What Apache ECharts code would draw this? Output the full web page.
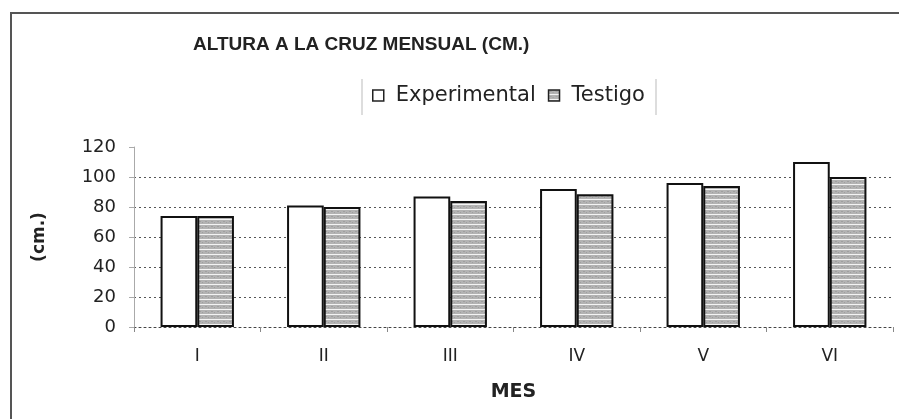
<!DOCTYPE html>
<html>
<head>
<meta charset="utf-8">
<script src="https://cdn.jsdelivr.net/npm/echarts@6/dist/echarts.min.js"></script>
<style>
html,body{margin:0;padding:0;background:#fff;}
#chart{width:899px;height:419px;}
</style>
</head>
<body>
<div id="chart"></div>
<script>
var categories = ['I', 'II', 'III', 'IV', 'V', 'VI'];
var experimental = [74, 81, 87, 92, 96, 110];
var testigo = [74, 80, 84, 88.5, 94, 100];
var yTicks = [0, 20, 40, 60, 80, 100, 120];
var seriesNames = ['Experimental', 'Testigo'];

function makePattern() {
  var c = document.createElement('canvas');
  c.width = 6; c.height = 5;
  var ctx = c.getContext('2d');
  ctx.fillStyle = '#b3b3b3';
  ctx.fillRect(0, 0, 6, 5);
  ctx.fillStyle = '#a0a0a0';
  ctx.fillRect(1, 1, 2, 1);
  ctx.fillRect(4, 2, 1, 1);
  ctx.fillStyle = '#f4f4f4';
  ctx.fillRect(0, 4, 6, 1);
  return c;
}

var chart = echarts.init(document.getElementById('chart'), null, {renderer: 'canvas'});
var option = {
  backgroundColor: '#ffffff',
  animation: false,
  title: {
    text: 'ALTURA A LA CRUZ MENSUAL (CM.)',
    left: 188,
    top: 30,
    textStyle: {fontFamily: 'Liberation Sans', fontWeight: 'bold', fontSize: 19, color: '#222'}
  },
  legend: {
    data: seriesNames,
    left: 367,
    top: 80,
    icon: 'rect',
    itemWidth: 11,
    itemHeight: 11,
    itemGap: 12,
    itemStyle: {borderColor: '#222', borderWidth: 1.5},
    textStyle: {fontFamily: 'DejaVu Sans', fontSize: 21, color: '#222', padding: [0, 0, 0, 7]}
  },
  graphic: [
    {type: 'polyline', shape: {points: [[11, 419], [11, 13], [899, 13]]}, style: {stroke: '#555', lineWidth: 2, fill: null}},
    {type: 'line', shape: {x1: 362, y1: 79, x2: 362, y2: 115}, style: {stroke: '#bbb', lineWidth: 1}},
    {type: 'line', shape: {x1: 656, y1: 79, x2: 656, y2: 115}, style: {stroke: '#bbb', lineWidth: 1}}
  ],
  grid: {left: 134, right: 6, top: 147, bottom: 92, containLabel: false},
  xAxis: {
    type: 'category',
    data: categories,
    name: 'MES',
    nameLocation: 'middle',
    nameGap: 56,
    nameTextStyle: {fontFamily: 'DejaVu Sans', fontWeight: 'bold', fontSize: 19, color: '#222'},
    axisLine: {show: true, lineStyle: {color: '#444', type: [2, 3], width: 1}},
    axisTick: {show: true, length: 5, lineStyle: {color: '#888'}},
    axisLabel: {margin: 21, fontFamily: 'DejaVu Sans', fontSize: 17, color: '#222'}
  },
  yAxis: {
    type: 'value',
    min: 0,
    max: 120,
    interval: 20,
    name: '(cm.)',
    nameLocation: 'middle',
    nameGap: 86,
    nameRotate: 90,
    nameTextStyle: {fontFamily: 'DejaVu Sans', fontWeight: 'bold', fontSize: 17, color: '#222'},
    axisLine: {show: true, lineStyle: {color: '#aaa', width: 1}},
    axisTick: {show: true, length: 5, lineStyle: {color: '#aaa'}},
    axisLabel: {margin: 18, fontFamily: 'DejaVu Sans', fontSize: 18, color: '#222',
      formatter: function (v) { return yTicks.indexOf(v) >= 0 ? String(v) : ''; }},
    splitLine: {show: true, showMinLine: false, showMaxLine: false, lineStyle: {color: '#555', type: [2, 3], width: 1}}
  },
  series: [
    {
      name: seriesNames[0],
      type: 'bar',
      data: experimental,
      barGap: '0%',
      barCategoryGap: '42%',
      itemStyle: {color: '#ffffff', borderColor: '#111', borderWidth: 2}
    },
    {
      name: seriesNames[1],
      type: 'bar',
      data: testigo,
      barGap: '0%',
      barCategoryGap: '42%',
      itemStyle: {color: {image: makePattern(), repeat: 'repeat'}, borderColor: '#111', borderWidth: 2}
    }
  ]
};
chart.setOption(option);
</script>
</body>
</html>
